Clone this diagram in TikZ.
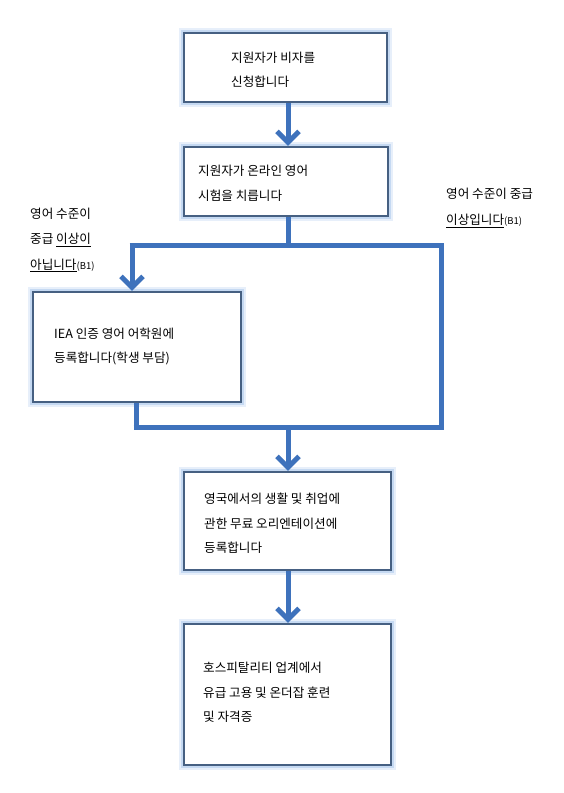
\documentclass[tikz,border=0pt]{standalone}
\usepackage{fontspec}
\setmainfont{Noto Sans CJK KR}
\usetikzlibrary{arrows.meta}
\definecolor{flow}{RGB}{62,114,188}
\definecolor{boxedge}{RGB}{70,96,130}
\definecolor{glow}{RGB}{120,165,225}
\tikzset{
  box/.style={draw=boxedge, line width=2.2pt, fill=white, inner sep=0pt,
    preaction={draw=glow, line width=10pt, opacity=0.18},
    preaction={draw=glow, line width=6pt, opacity=0.3}},
  txt/.style={anchor=west, align=left, inner sep=0pt, font=\fontsize{12.6}{24.5}\selectfont},
  lbl/.style={anchor=west, align=left, inner sep=0pt, font=\fontsize{12.6}{25.5}\selectfont},
  flowline/.style={draw=flow, line width=5pt},
  flowarrow/.style={flowline, -{Straight Barb[length=11pt,width=22pt]}},
}
\newcommand{\sm}[1]{{\fontsize{9.5}{10}\selectfont #1}}
\begin{document}
\begin{tikzpicture}[x=1pt,y=-1pt]
\useasboundingbox (0,0) rectangle (564,793);
% boxes
\node[box, minimum width=203pt, minimum height=69pt] (b1) at (285.5,67.5) {};
\node[box, minimum width=204pt, minimum height=69pt] (b2) at (286,181.5) {};
\node[box, minimum width=208pt, minimum height=110pt] (b3) at (137,347) {};
\node[box, minimum width=207pt, minimum height=98pt] (b4) at (287.5,521) {};
\node[box, minimum width=207pt, minimum height=141pt] (b5) at (287.5,694.5) {};
% texts
\node[txt] (t1) at (231,70) {지원자가 비자를\\신청합니다};
\node[txt] (t2) at (198,183.5) {지원자가 온라인 영어\\시험을 치릅니다};
\node[txt] (t3) at (54,346.5) {IEA 인증 영어 어학원에\\등록합니다(학생 부담)};
\node[txt] (t4) at (204,523.5) {영국에서의 생활 및 취업에\\관한 무료 오리엔테이션에\\등록합니다};
\node[txt] (t5) at (203,692.5) {호스피탈리티 업계에서\\유급 고용 및 온더잡 훈련\\및 자격증};
% side labels
\node[lbl] (lL) at (30,240) {영어 수준이\\중급 \underline{이상이}\\\underline{아닙니다}\sm{(B1)}};
\node[lbl] (lR) at (446,208) {영어 수준이 중급\\\underline{이상입니다}\sm{(B1)}};
% junction coordinates
\coordinate (j1) at (288,245);
\coordinate (jl) at (132,245);
\coordinate (jr) at (441,245);
\coordinate (jr2) at (441,427);
\coordinate (jb) at (136,427);
\coordinate (j2) at (288,427);
% connectors
\draw[flowarrow] (b1.south -| j1) -- (b2.north -| j1);
\draw[flowline] (b2.south -| j1) -- (j1);
\draw[flowline] ([xshift=-2.5pt]jl) -- ([xshift=2.5pt]jr);
\draw[flowarrow] ([yshift=-2.5pt]jl) -- (b3.north -| jl);
\draw[flowline] ([yshift=-2.5pt]jr) -- ([yshift=2.5pt]jr2);
\draw[flowline] (b3.south -| jb) -- ([yshift=2.5pt]jb);
\draw[flowline] ([xshift=-2.5pt]jb) -- ([xshift=2.5pt]jr2);
\draw[flowarrow] ([yshift=-2.5pt]j2) -- (b4.north -| j2);
\draw[flowarrow] (b4.south -| j2) -- (b5.north -| j2);
\end{tikzpicture}
\end{document}
